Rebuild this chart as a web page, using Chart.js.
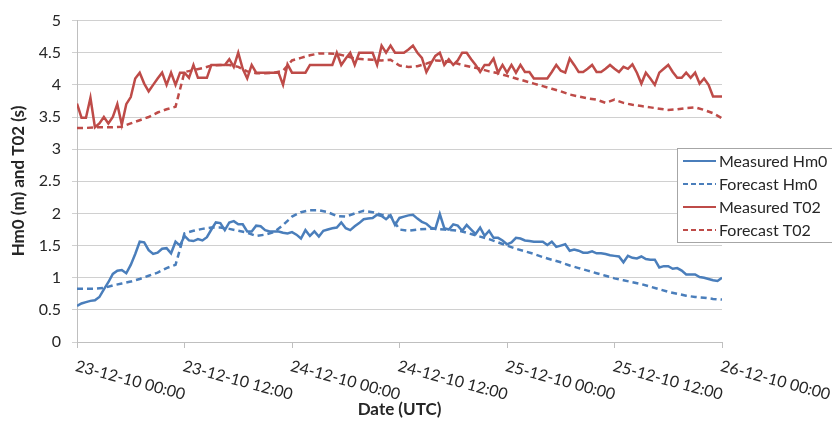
<!DOCTYPE html>
<html>
<head>
  <meta charset="utf-8">
  <title>Hm0 and T02, measured vs forecast</title>
  <script src="https://cdn.jsdelivr.net/npm/chart.js"></script>
  <style>
    html, body { margin: 0; padding: 0; background: #fff; }
    #wrap { width: 832px; height: 423px; position: relative; }
  </style>
</head>
<body>
<div id="wrap"><canvas id="waveChart"></canvas></div>

<script>
  // ----- data -----
  // measured values every 30 min, forecast values every hour (hours from 23-12-10 00:00)
  const measuredStep = 0.5;
  const forecastStep = 1;

  const measuredHm0 = [
    0.56, 0.60, 0.62, 0.64, 0.65, 0.70, 0.82, 0.93, 1.06, 1.11, 1.12, 1.07, 1.20, 1.37, 1.56, 1.55,
    1.43, 1.37, 1.39, 1.45, 1.46, 1.38, 1.56, 1.50, 1.65, 1.58, 1.57, 1.60, 1.58, 1.63, 1.75, 1.86,
    1.85, 1.74, 1.86, 1.88, 1.83, 1.83, 1.72, 1.72, 1.81, 1.80, 1.74, 1.72, 1.72, 1.72, 1.70, 1.69,
    1.71, 1.67, 1.61, 1.74, 1.65, 1.72, 1.64, 1.73, 1.75, 1.77, 1.78, 1.86, 1.77, 1.74, 1.80, 1.85,
    1.91, 1.92, 1.93, 1.98, 1.96, 1.91, 1.97, 1.82, 1.93, 1.95, 1.97, 1.98, 1.92, 1.87, 1.84, 1.78,
    1.76, 1.99, 1.77, 1.75, 1.83, 1.81, 1.73, 1.82, 1.75, 1.68, 1.78, 1.65, 1.73, 1.62, 1.62, 1.58,
    1.52, 1.55, 1.62, 1.61, 1.58, 1.57, 1.56, 1.56, 1.56, 1.51, 1.56, 1.48, 1.50, 1.52, 1.42, 1.44,
    1.42, 1.39, 1.39, 1.41, 1.38, 1.38, 1.37, 1.35, 1.34, 1.33, 1.24, 1.34, 1.31, 1.30, 1.33, 1.29,
    1.28, 1.28, 1.16, 1.18, 1.18, 1.14, 1.15, 1.11, 1.05, 1.05, 1.05, 1.01, 1.00, 0.98, 0.96, 0.95,
    1.00
  ];

  const forecastHm0 = [
    0.83, 0.83, 0.83, 0.84, 0.88, 0.91, 0.94, 0.98, 1.03, 1.08, 1.15, 1.20, 1.69, 1.73, 1.76, 1.78,
    1.78, 1.76, 1.73, 1.70, 1.65, 1.67, 1.71, 1.82, 1.95, 2.02, 2.05, 2.05, 2.02, 1.96, 1.95, 2.00,
    2.04, 2.02, 1.98, 1.96, 1.75, 1.73, 1.75, 1.76, 1.76, 1.75, 1.74, 1.72, 1.68, 1.64, 1.60, 1.55,
    1.50, 1.45, 1.41, 1.37, 1.32, 1.28, 1.24, 1.19, 1.15, 1.11, 1.07, 1.03, 0.99, 0.96, 0.93, 0.90,
    0.86, 0.82, 0.78, 0.75, 0.72, 0.70, 0.69, 0.67, 0.66
  ];

  const measuredT02 = [
    3.71, 3.49, 3.49, 3.80, 3.34, 3.40, 3.50, 3.40, 3.50, 3.70, 3.38, 3.70, 3.81, 4.10, 4.19, 4.02,
    3.90, 4.00, 4.10, 4.19, 4.00, 4.19, 4.00, 4.19, 4.19, 4.11, 4.31, 4.11, 4.11, 4.11, 4.31, 4.31,
    4.31, 4.31, 4.40, 4.28, 4.50, 4.25, 4.10, 4.31, 4.19, 4.19, 4.19, 4.19, 4.19, 4.19, 4.00, 4.32,
    4.19, 4.19, 4.19, 4.19, 4.31, 4.31, 4.31, 4.31, 4.31, 4.31, 4.50, 4.31, 4.41, 4.50, 4.31, 4.50,
    4.50, 4.50, 4.50, 4.31, 4.61, 4.50, 4.61, 4.50, 4.50, 4.50, 4.55, 4.61, 4.50, 4.42, 4.20, 4.33,
    4.45, 4.50, 4.31, 4.40, 4.31, 4.38, 4.50, 4.50, 4.40, 4.31, 4.20, 4.31, 4.31, 4.41, 4.19, 4.31,
    4.19, 4.31, 4.19, 4.31, 4.20, 4.20, 4.10, 4.10, 4.10, 4.10, 4.20, 4.31, 4.22, 4.19, 4.41, 4.31,
    4.20, 4.20, 4.25, 4.31, 4.20, 4.20, 4.25, 4.31, 4.25, 4.20, 4.28, 4.25, 4.32, 4.19, 4.02, 4.19,
    4.10, 4.00, 4.19, 4.25, 4.31, 4.20, 4.11, 4.11, 4.19, 4.11, 4.19, 4.02, 4.10, 4.00, 3.82, 3.82,
    3.82
  ];

  const forecastT02 = [
    3.33, 3.33, 3.34, 3.34, 3.34, 3.35, 3.40, 3.45, 3.50, 3.57, 3.62, 3.66, 4.20, 4.23, 4.26, 4.30,
    4.31, 4.31, 4.28, 4.21, 4.18, 4.18, 4.19, 4.22, 4.38, 4.42, 4.46, 4.49, 4.49, 4.48, 4.45, 4.41,
    4.40, 4.39, 4.38, 4.39, 4.30, 4.28, 4.29, 4.33, 4.38, 4.37, 4.35, 4.31, 4.28, 4.25, 4.21, 4.18,
    4.14, 4.10, 4.06, 4.02, 3.98, 3.94, 3.90, 3.85, 3.82, 3.79, 3.77, 3.72, 3.77, 3.72, 3.69, 3.67,
    3.65, 3.63, 3.61, 3.62, 3.64, 3.65, 3.61, 3.56, 3.48
  ];

  const xTickValues = [0, 12, 24, 36, 48, 60, 72];
  const xTickLabels = [
    '23-12-10 00:00', '23-12-10 12:00', '24-12-10 00:00', '24-12-10 12:00',
    '25-12-10 00:00', '25-12-10 12:00', '26-12-10 00:00'
  ];
  const seriesNames = ['Measured Hm0', 'Forecast Hm0', 'Measured T02', 'Forecast T02'];

  // ----- styles -----
  const BLUE = '#4a7ebb';
  const RED = '#be4b48';
  const DASH = [6, 4];
  const FONT = 'Lato, "Open Sans", sans-serif';
  const TEXT = '#262626';

  function toPoints(values, step) {
    return values.map((v, i) => ({ x: i * step, y: v }));
  }

  // slanted date labels, axis titles and the boxed legend
  const decorations = {
    id: 'decorations',
    afterDraw(chart) {
      const ctx = chart.ctx;
      const xs = chart.scales.x;
      const area = chart.chartArea;

      ctx.save();
      ctx.fillStyle = TEXT;
      ctx.font = '16px ' + FONT;
      ctx.textAlign = 'left';
      ctx.textBaseline = 'top';
      xTickValues.forEach((v, i) => {
        const px = xs.getPixelForValue(v);
        ctx.save();
        ctx.translate(px + 1, area.bottom + 16);
        ctx.rotate(15 * Math.PI / 180);
        ctx.fillText(xTickLabels[i], 0, 0);
        ctx.restore();
      });

      ctx.font = 'bold 17px ' + FONT;
      ctx.textAlign = 'center';
      ctx.textBaseline = 'middle';
      ctx.fillText('Date (UTC)', (area.left + area.right) / 2, 410);

      ctx.save();
      ctx.translate(19, 181);
      ctx.rotate(-Math.PI / 2);
      ctx.fillText('Hm0 (m) and T02 (s)', 0, 0);
      ctx.restore();

      // legend box
      const bx = 677, by = 148, bw = 160, bh = 94;
      ctx.fillStyle = '#ffffff';
      ctx.fillRect(bx, by, bw, bh);
      ctx.strokeStyle = '#a6a6a6';
      ctx.lineWidth = 1;
      ctx.strokeRect(bx + 0.5, by + 0.5, bw, bh);

      const rows = [161, 184, 207, 230];
      const colors = [BLUE, BLUE, RED, RED];
      const dashed = [false, true, false, true];
      ctx.font = '16px ' + FONT;
      ctx.textAlign = 'left';
      ctx.textBaseline = 'middle';
      rows.forEach((ry, i) => {
        ctx.beginPath();
        ctx.strokeStyle = colors[i];
        ctx.lineWidth = 2;
        ctx.setLineDash(dashed[i] ? [5, 3] : []);
        ctx.moveTo(683, ry);
        ctx.lineTo(716, ry);
        ctx.stroke();
        ctx.setLineDash([]);
        ctx.fillStyle = TEXT;
        ctx.fillText(seriesNames[i], 719, ry + 1);
      });
      ctx.restore();
    }
  };

  const ctx = document.getElementById('waveChart').getContext('2d');
  const waveChart = new Chart(ctx, {
    type: 'line',
    data: {
      datasets: [
        {
          label: seriesNames[0],
          data: toPoints(measuredHm0, measuredStep),
          borderColor: BLUE,
          borderWidth: 2.5,
          order: 4
        },
        {
          label: seriesNames[1],
          data: toPoints(forecastHm0, forecastStep),
          borderColor: BLUE,
          borderWidth: 2.5,
          borderDash: DASH,
          order: 3
        },
        {
          label: seriesNames[2],
          data: toPoints(measuredT02, measuredStep),
          borderColor: RED,
          borderWidth: 2.5,
          order: 2
        },
        {
          label: seriesNames[3],
          data: toPoints(forecastT02, forecastStep),
          borderColor: RED,
          borderWidth: 2.5,
          borderDash: DASH,
          order: 1
        }
      ]
    },
    options: {
      responsive: true,
      maintainAspectRatio: false,
      animation: false,
      devicePixelRatio: 1,
      elements: {
        point: { radius: 0 },
        line: { tension: 0, fill: false }
      },
      layout: { padding: { left: 0, top: 18, right: 110, bottom: 0 } },
      plugins: {
        legend: { display: false },
        tooltip: { enabled: false }
      },
      scales: {
        x: {
          type: 'linear',
          min: 0,
          max: 72,
          afterBuildTicks: (scale) => {
            scale.ticks = xTickValues.map(v => ({ value: v }));
          },
          ticks: {
            callback: () => '',
            maxRotation: 0,
            padding: 0
          },
          grid: {
            drawOnChartArea: false,
            color: '#bfbfbf',
            tickLength: 6
          },
          border: { color: '#bfbfbf' },
          afterFit: (scale) => { scale.height = 423 - 342; }
        },
        y: {
          min: 0,
          max: 5,
          ticks: {
            stepSize: 0.5,
            color: TEXT,
            font: { family: FONT, size: 16 },
            padding: 11,
            callback: (v) => String(v)
          },
          grid: {
            color: '#d0d0d0',
            tickLength: 5
          },
          border: { color: '#bfbfbf' },
          afterFit: (scale) => { scale.width = 77; }
        }
      }
    },
    plugins: [decorations]
  });
</script>
</body>
</html>
